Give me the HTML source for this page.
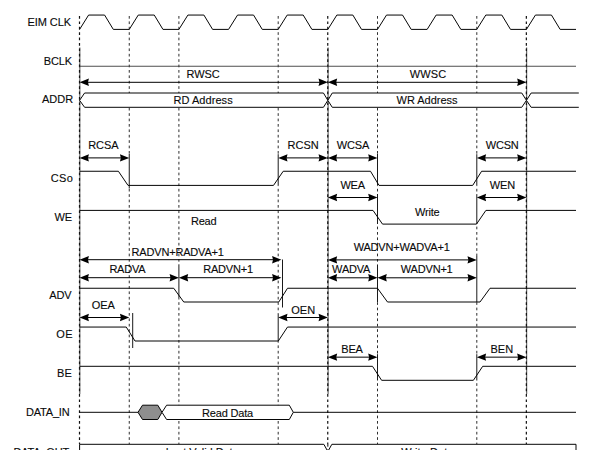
<!DOCTYPE html>
<html lang="en">
<head>
<meta charset="utf-8">
<title>EIM timing diagram</title>
<style>
html, body { margin: 0; padding: 0; background: #ffffff; }
body { width: 600px; height: 450px; overflow: hidden; }
svg { display: block; }
svg text { font-family: "Liberation Sans", Arial, Helvetica, sans-serif; fill: #0a0a0a; stroke: #0a0a0a; stroke-width: 0.12px; }
</style>
</head>
<body>
<svg width="600" height="450" viewBox="0 0 600 450">
<rect x="0" y="0" width="600" height="450" fill="#ffffff"/>
<line x1="129.25" y1="16.00" x2="129.25" y2="444.00" stroke="#2e2e2e" stroke-width="1.0" stroke-dasharray="2.7 2.7" stroke-dashoffset="0"/>
<line x1="178.90" y1="16.00" x2="178.90" y2="444.00" stroke="#2e2e2e" stroke-width="1.0" stroke-dasharray="2.7 2.7" stroke-dashoffset="0"/>
<line x1="278.20" y1="16.00" x2="278.20" y2="444.00" stroke="#2e2e2e" stroke-width="1.0" stroke-dasharray="2.7 2.7" stroke-dashoffset="0"/>
<line x1="377.50" y1="16.00" x2="377.50" y2="444.00" stroke="#2e2e2e" stroke-width="1.0" stroke-dasharray="2.7 2.7" stroke-dashoffset="0"/>
<line x1="476.80" y1="16.00" x2="476.80" y2="444.00" stroke="#2e2e2e" stroke-width="1.0" stroke-dasharray="2.7 2.7" stroke-dashoffset="0"/>
<line x1="79.85" y1="47.50" x2="79.85" y2="394.00" stroke="#4a4a4a" stroke-width="1.0"/>
<line x1="79.50" y1="16.00" x2="79.50" y2="444.00" stroke="#111" stroke-width="1.2" stroke-dasharray="2.7 2.7" stroke-dashoffset="0"/>
<line x1="328.10" y1="47.50" x2="328.10" y2="394.00" stroke="#4a4a4a" stroke-width="1.0"/>
<line x1="327.75" y1="16.00" x2="327.75" y2="444.00" stroke="#111" stroke-width="1.2" stroke-dasharray="2.7 2.7" stroke-dashoffset="0"/>
<line x1="526.70" y1="47.50" x2="526.70" y2="394.00" stroke="#4a4a4a" stroke-width="1.0"/>
<line x1="526.35" y1="16.00" x2="526.35" y2="444.00" stroke="#111" stroke-width="1.2" stroke-dasharray="2.7 2.7" stroke-dashoffset="0"/>
<line x1="327.85" y1="444.00" x2="327.85" y2="450.00" stroke="#050505" stroke-width="1.0" stroke-dasharray="2.7 2.7" stroke-dashoffset="0"/>
<line x1="129.25" y1="154.00" x2="129.25" y2="188.50" stroke="#fff" stroke-width="2.4"/>
<line x1="129.25" y1="154.00" x2="129.25" y2="188.50" stroke="#1a1a1a" stroke-width="1.0"/>
<line x1="278.20" y1="154.20" x2="278.20" y2="185.60" stroke="#fff" stroke-width="2.4"/>
<line x1="278.20" y1="154.20" x2="278.20" y2="185.60" stroke="#1a1a1a" stroke-width="1.0"/>
<line x1="377.50" y1="154.00" x2="377.50" y2="185.40" stroke="#fff" stroke-width="2.4"/>
<line x1="377.50" y1="154.00" x2="377.50" y2="185.40" stroke="#1a1a1a" stroke-width="1.0"/>
<line x1="377.50" y1="194.00" x2="377.50" y2="224.00" stroke="#fff" stroke-width="2.4"/>
<line x1="377.50" y1="194.00" x2="377.50" y2="224.00" stroke="#1a1a1a" stroke-width="1.0"/>
<line x1="476.80" y1="154.20" x2="476.80" y2="185.40" stroke="#fff" stroke-width="2.4"/>
<line x1="476.80" y1="154.20" x2="476.80" y2="185.40" stroke="#1a1a1a" stroke-width="1.0"/>
<line x1="476.80" y1="194.20" x2="476.80" y2="224.00" stroke="#fff" stroke-width="2.4"/>
<line x1="476.80" y1="194.20" x2="476.80" y2="224.00" stroke="#1a1a1a" stroke-width="1.0"/>
<line x1="178.90" y1="264.50" x2="178.90" y2="298.00" stroke="#fff" stroke-width="2.4"/>
<line x1="178.90" y1="264.50" x2="178.90" y2="298.00" stroke="#1a1a1a" stroke-width="1.0"/>
<line x1="282.50" y1="259.50" x2="282.50" y2="307.50" stroke="#1a1a1a" stroke-width="1.0"/>
<line x1="377.50" y1="265.00" x2="377.50" y2="302.00" stroke="#fff" stroke-width="2.4"/>
<line x1="377.50" y1="265.00" x2="377.50" y2="302.00" stroke="#1a1a1a" stroke-width="1.0"/>
<line x1="476.80" y1="256.00" x2="476.80" y2="302.00" stroke="#fff" stroke-width="2.4"/>
<line x1="476.80" y1="256.00" x2="476.80" y2="302.00" stroke="#1a1a1a" stroke-width="1.0"/>
<line x1="132.70" y1="313.00" x2="132.70" y2="348.00" stroke="#1a1a1a" stroke-width="1.0"/>
<line x1="278.20" y1="313.50" x2="278.20" y2="341.00" stroke="#fff" stroke-width="2.4"/>
<line x1="278.20" y1="313.50" x2="278.20" y2="341.00" stroke="#1a1a1a" stroke-width="1.0"/>
<line x1="377.50" y1="354.20" x2="377.50" y2="380.20" stroke="#fff" stroke-width="2.4"/>
<line x1="377.50" y1="354.20" x2="377.50" y2="380.20" stroke="#1a1a1a" stroke-width="1.0"/>
<line x1="476.80" y1="354.20" x2="476.80" y2="380.20" stroke="#fff" stroke-width="2.4"/>
<line x1="476.80" y1="354.20" x2="476.80" y2="380.20" stroke="#1a1a1a" stroke-width="1.0"/>
<polyline points="79.60,29.40 88.60,15.05 104.60,15.05 113.30,29.40 129.25,29.40 138.25,15.05 154.25,15.05 162.95,29.40 178.90,29.40 187.90,15.05 203.90,15.05 212.60,29.40 228.55,29.40 237.55,15.05 253.55,15.05 262.25,29.40 278.20,29.40 287.20,15.05 303.20,15.05 311.90,29.40 327.85,29.40 336.85,15.05 352.85,15.05 361.55,29.40 377.50,29.40 386.50,15.05 402.50,15.05 411.20,29.40 427.15,29.40 436.15,15.05 452.15,15.05 460.85,29.40 476.80,29.40 485.80,15.05 501.80,15.05 510.50,29.40 526.45,29.40 535.45,15.05 551.45,15.05 560.15,29.40 576.00,29.40" fill="none" stroke="#050505" stroke-width="1.0" />
<polyline points="79.60,66.25 576.00,66.25" fill="none" stroke="#3a3a3a" stroke-width="0.9" />
<line x1="85.18" y1="82.30" x2="322.27" y2="82.30" stroke="#000" stroke-width="1.0"/>
<polygon points="79.60,82.30 88.90,78.60 88.00,82.30 88.90,86.00" fill="#000"/>
<polygon points="327.85,82.30 318.55,78.60 319.45,82.30 318.55,86.00" fill="#000"/>
<line x1="333.43" y1="82.30" x2="520.87" y2="82.30" stroke="#000" stroke-width="1.0"/>
<polygon points="327.85,82.30 337.15,78.60 336.25,82.30 337.15,86.00" fill="#000"/>
<polygon points="526.45,82.30 517.15,78.60 518.05,82.30 517.15,86.00" fill="#000"/>
<polygon points="79.60,100.35 84.60,93.00 323.45,93.00 327.85,100.35 323.45,107.30 84.60,107.30" fill="#fff" stroke="#050505" stroke-width="1.0" stroke-linejoin="miter"/>
<polygon points="327.85,100.35 332.25,93.00 521.75,93.00 526.45,100.35 521.75,107.30 332.25,107.30" fill="#fff" stroke="#050505" stroke-width="1.0" stroke-linejoin="miter"/>
<polygon points="526.45,100.35 531.15,93.0 580.8,93.0 580.8,107.3 531.15,107.3" fill="#fff" stroke="none"/>
<polyline points="578.80,93.00 531.15,93.00 526.45,100.35 531.15,107.30 578.80,107.30" fill="none" stroke="#050505" stroke-width="1.0" />
<polyline points="79.60,171.25 118.40,171.25 128.00,185.40 273.50,185.40 283.20,171.25 370.50,171.25 379.00,185.40 472.70,185.40 481.60,171.25 576.00,171.25" fill="none" stroke="#050505" stroke-width="1.0" />
<line x1="85.18" y1="157.90" x2="123.67" y2="157.90" stroke="#000" stroke-width="1.0"/>
<polygon points="79.60,157.90 88.90,154.20 88.00,157.90 88.90,161.60" fill="#000"/>
<polygon points="129.25,157.90 119.95,154.20 120.85,157.90 119.95,161.60" fill="#000"/>
<line x1="283.78" y1="157.90" x2="322.27" y2="157.90" stroke="#000" stroke-width="1.0"/>
<polygon points="278.20,157.90 287.50,154.20 286.60,157.90 287.50,161.60" fill="#000"/>
<polygon points="327.85,157.90 318.55,154.20 319.45,157.90 318.55,161.60" fill="#000"/>
<line x1="333.43" y1="157.90" x2="371.92" y2="157.90" stroke="#000" stroke-width="1.0"/>
<polygon points="327.85,157.90 337.15,154.20 336.25,157.90 337.15,161.60" fill="#000"/>
<polygon points="377.50,157.90 368.20,154.20 369.10,157.90 368.20,161.60" fill="#000"/>
<line x1="482.38" y1="157.90" x2="520.87" y2="157.90" stroke="#000" stroke-width="1.0"/>
<polygon points="476.80,157.90 486.10,154.20 485.20,157.90 486.10,161.60" fill="#000"/>
<polygon points="526.45,157.90 517.15,154.20 518.05,157.90 517.15,161.60" fill="#000"/>
<polyline points="79.60,210.40 373.00,210.40 382.50,224.10 476.50,224.10 485.90,210.40 576.00,210.40" fill="none" stroke="#050505" stroke-width="1.0" />
<line x1="333.43" y1="197.50" x2="371.92" y2="197.50" stroke="#000" stroke-width="1.0"/>
<polygon points="327.85,197.50 337.15,193.80 336.25,197.50 337.15,201.20" fill="#000"/>
<polygon points="377.50,197.50 368.20,193.80 369.10,197.50 368.20,201.20" fill="#000"/>
<line x1="482.38" y1="197.50" x2="520.87" y2="197.50" stroke="#000" stroke-width="1.0"/>
<polygon points="476.80,197.50 486.10,193.80 485.20,197.50 486.10,201.20" fill="#000"/>
<polygon points="526.45,197.50 517.15,193.80 518.05,197.50 517.15,201.20" fill="#000"/>
<polyline points="79.60,288.25 173.75,288.25 183.75,302.00 278.75,302.00 287.50,288.25 377.50,288.25 387.50,302.00 480.00,302.00 490.00,288.25 576.00,288.25" fill="none" stroke="#050505" stroke-width="1.0" />
<line x1="85.18" y1="259.70" x2="275.82" y2="259.70" stroke="#000" stroke-width="1.0"/>
<polygon points="79.60,259.70 88.90,256.00 88.00,259.70 88.90,263.40" fill="#000"/>
<polygon points="281.40,259.70 272.10,256.00 273.00,259.70 272.10,263.40" fill="#000"/>
<line x1="85.18" y1="277.70" x2="173.32" y2="277.70" stroke="#000" stroke-width="1.0"/>
<polygon points="79.60,277.70 88.90,274.00 88.00,277.70 88.90,281.40" fill="#000"/>
<polygon points="178.90,277.70 169.60,274.00 170.50,277.70 169.60,281.40" fill="#000"/>
<line x1="184.48" y1="277.70" x2="275.82" y2="277.70" stroke="#000" stroke-width="1.0"/>
<polygon points="178.90,277.70 188.20,274.00 187.30,277.70 188.20,281.40" fill="#000"/>
<polygon points="281.40,277.70 272.10,274.00 273.00,277.70 272.10,281.40" fill="#000"/>
<line x1="333.43" y1="259.90" x2="471.22" y2="259.90" stroke="#000" stroke-width="1.0"/>
<polygon points="327.85,259.90 337.15,256.20 336.25,259.90 337.15,263.60" fill="#000"/>
<polygon points="476.80,259.90 467.50,256.20 468.40,259.90 467.50,263.60" fill="#000"/>
<line x1="333.43" y1="277.80" x2="371.92" y2="277.80" stroke="#000" stroke-width="1.0"/>
<polygon points="327.85,277.80 337.15,274.10 336.25,277.80 337.15,281.50" fill="#000"/>
<polygon points="377.50,277.80 368.20,274.10 369.10,277.80 368.20,281.50" fill="#000"/>
<line x1="383.08" y1="277.80" x2="471.22" y2="277.80" stroke="#000" stroke-width="1.0"/>
<polygon points="377.50,277.80 386.80,274.10 385.90,277.80 386.80,281.50" fill="#000"/>
<polygon points="476.80,277.80 467.50,274.10 468.40,277.80 467.50,281.50" fill="#000"/>
<polyline points="79.60,327.05 126.25,327.05 135.00,341.00 278.30,341.00 287.50,327.05 576.00,327.05" fill="none" stroke="#050505" stroke-width="1.0" />
<line x1="85.18" y1="317.50" x2="123.67" y2="317.50" stroke="#000" stroke-width="1.0"/>
<polygon points="79.60,317.50 88.90,313.80 88.00,317.50 88.90,321.20" fill="#000"/>
<polygon points="129.25,317.50 119.95,313.80 120.85,317.50 119.95,321.20" fill="#000"/>
<line x1="283.78" y1="317.50" x2="322.27" y2="317.50" stroke="#000" stroke-width="1.0"/>
<polygon points="278.20,317.50 287.50,313.80 286.60,317.50 287.50,321.20" fill="#000"/>
<polygon points="327.85,317.50 318.55,313.80 319.45,317.50 318.55,321.20" fill="#000"/>
<polyline points="79.60,366.30 372.50,366.30 381.60,380.30 473.40,380.30 482.70,366.30 576.00,366.30" fill="none" stroke="#050505" stroke-width="1.0" />
<line x1="333.43" y1="357.15" x2="371.92" y2="357.15" stroke="#000" stroke-width="1.0"/>
<polygon points="327.85,357.15 337.15,353.45 336.25,357.15 337.15,360.85" fill="#000"/>
<polygon points="377.50,357.15 368.20,353.45 369.10,357.15 368.20,360.85" fill="#000"/>
<line x1="482.38" y1="357.15" x2="520.87" y2="357.15" stroke="#000" stroke-width="1.0"/>
<polygon points="476.80,357.15 486.10,353.45 485.20,357.15 486.10,360.85" fill="#000"/>
<polygon points="526.45,357.15 517.15,353.45 518.05,357.15 517.15,360.85" fill="#000"/>
<polyline points="79.60,412.30 138.00,412.30" fill="none" stroke="#050505" stroke-width="1.0" />
<polygon points="138,412.3 142.5,405.2 157.8,405.2 162,412.3 157.8,419.5 142.5,419.5" fill="#8e8e8e" stroke="#050505" stroke-width="1.0"/>
<polygon points="162,412.3 166.6,405.2 289.3,405.2 293.3,412.3 289.3,419.5 166.6,419.5" fill="#fff" stroke="#050505" stroke-width="1.0"/>
<polyline points="293.30,412.30 576.00,412.30" fill="none" stroke="#050505" stroke-width="1.0" />
<polyline points="79.60,451.00 79.60,444.30 323.85,444.30 327.85,451.50 331.85,444.30 576.00,444.30 576.00,451.00" fill="none" stroke="#050505" stroke-width="1.0" />
<text x="27.60" y="26.20" font-size="11.0" letter-spacing="-0.100">EIM CLK</text>
<text x="43.80" y="64.70" font-size="11.0" letter-spacing="-0.187">BCLK</text>
<text x="41.97" y="103.40" font-size="11.0" letter-spacing="0.022">ADDR</text>
<text x="50.80" y="182.00" font-size="11.0" letter-spacing="0.291">CSo</text>
<text x="54.47" y="220.50" font-size="11.0" letter-spacing="-0.200">WE</text>
<text x="49.32" y="298.80" font-size="11.0" letter-spacing="-0.200">ADV</text>
<text x="56.20" y="337.80" font-size="11.0" letter-spacing="0.450">OE</text>
<text x="57.10" y="376.70" font-size="11.0" letter-spacing="0.174">BE</text>
<text x="26.02" y="416.00" font-size="11.0" letter-spacing="-0.200">DATA_IN</text>
<text x="13.54" y="455.60" font-size="11.0" letter-spacing="-0.200">DATA_OUT</text>
<text x="186.60" y="77.60" font-size="11.0" letter-spacing="-0.112">RWSC</text>
<text x="173.40" y="103.80" font-size="11.0" letter-spacing="0.067">RD Address</text>
<text x="409.87" y="77.60" font-size="11.0" letter-spacing="0.099">WWSC</text>
<text x="396.57" y="103.80" font-size="11.0" letter-spacing="-0.019">WR Address</text>
<text x="88.30" y="149.30" font-size="11.0" letter-spacing="-0.126">RCSA</text>
<text x="287.60" y="149.20" font-size="11.0" letter-spacing="-0.009">RCSN</text>
<text x="336.86" y="149.20" font-size="11.0" letter-spacing="-0.200">WCSA</text>
<text x="485.79" y="149.20" font-size="11.0" letter-spacing="-0.200">WCSN</text>
<text x="340.41" y="188.70" font-size="11.0" letter-spacing="-0.200">WEA</text>
<text x="489.87" y="188.80" font-size="11.0" letter-spacing="-0.187">WEN</text>
<text x="190.90" y="224.60" font-size="11.0" letter-spacing="-0.196">Read</text>
<text x="415.08" y="215.80" font-size="11.0" letter-spacing="-0.200">Write</text>
<text x="131.60" y="255.50" font-size="11.0" letter-spacing="-0.185">RADVN+RADVA+1</text>
<text x="353.63" y="251.40" font-size="11.0" letter-spacing="-0.200">WADVN+WADVA+1</text>
<text x="109.38" y="272.50" font-size="11.0" letter-spacing="-0.200">RADVA</text>
<text x="203.16" y="272.50" font-size="11.0" letter-spacing="-0.200">RADVN+1</text>
<text x="332.11" y="272.50" font-size="11.0" letter-spacing="-0.200">WADVA</text>
<text x="400.85" y="272.50" font-size="11.0" letter-spacing="-0.200">WADVN+1</text>
<text x="91.69" y="308.70" font-size="11.0" letter-spacing="-0.070">OEA</text>
<text x="291.19" y="313.80" font-size="11.0" letter-spacing="0.096">OEN</text>
<text x="341.28" y="352.60" font-size="11.0" letter-spacing="-0.200">BEA</text>
<text x="490.40" y="352.80" font-size="11.0" letter-spacing="0.048">BEN</text>
<text x="202.10" y="416.70" font-size="11.0" letter-spacing="-0.190">Read Data</text>
<text x="165.76" y="456.00" font-size="11.0" letter-spacing="-0.060">Last Valid Data</text>
<text x="401.17" y="455.90" font-size="11.0" letter-spacing="0.050">Write Data</text>
</svg>
</body>
</html>
